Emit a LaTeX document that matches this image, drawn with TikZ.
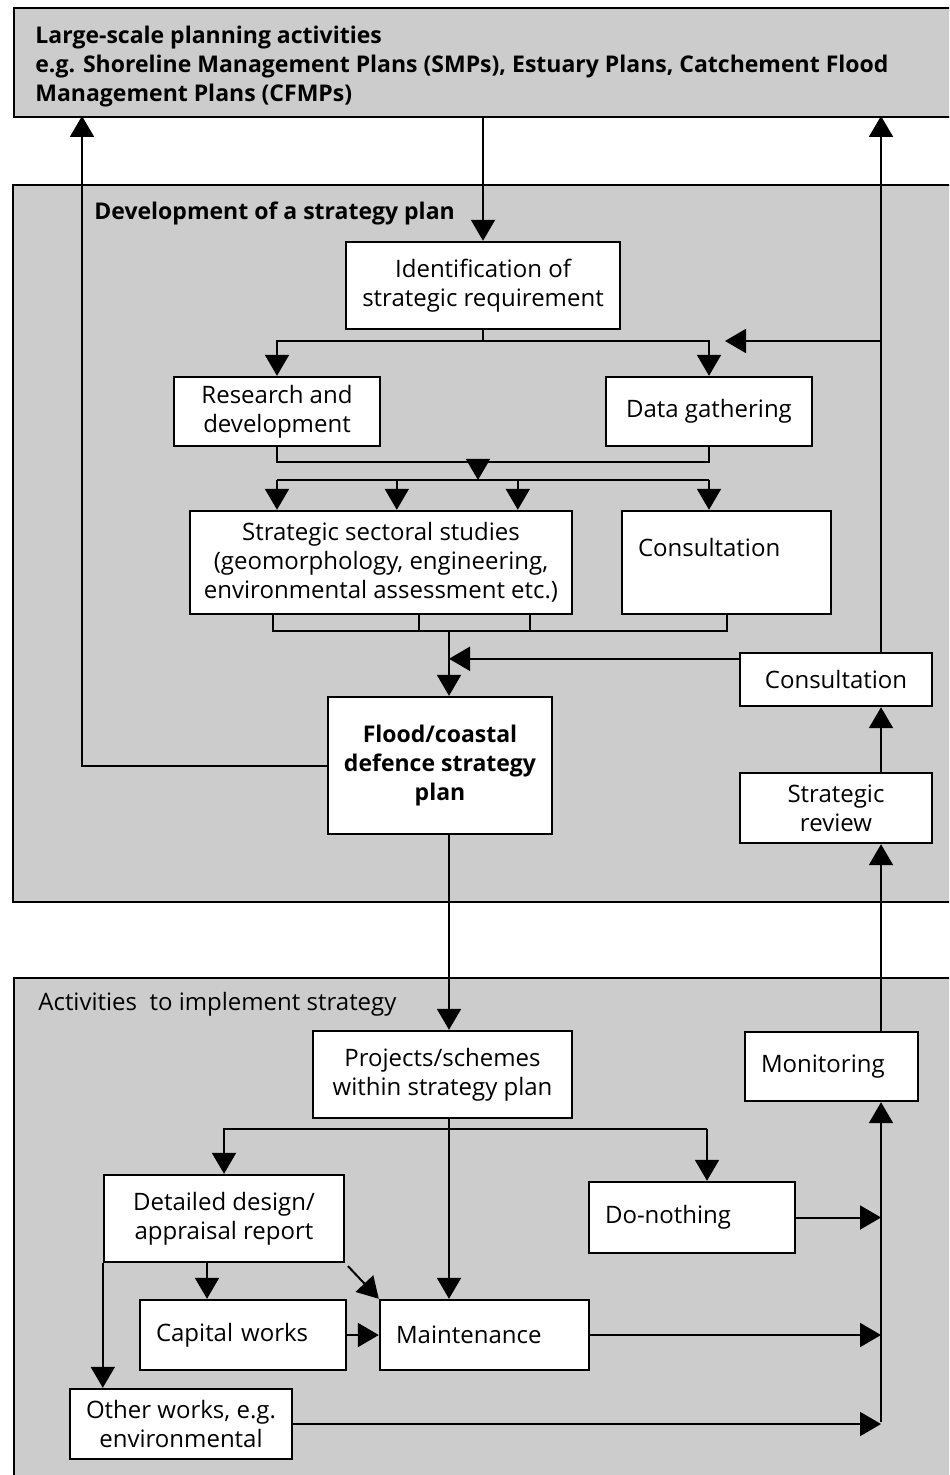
\documentclass[tikz,border=0pt]{standalone}
\usepackage{fontspec}
\setmainfont{Open Sans}
\usepackage{tikz}
\usepackage{xcolor}
\usetikzlibrary{arrows.meta}

\definecolor{panelgray}{HTML}{CCCCCC}

\tikzset{
    txt/.style={font=\fontsize{12}{14.5}\selectfont},
    boldtxt/.style={font=\fontsize{11.5}{14.5}\selectfont\bfseries},
    panel/.style={draw, fill=panelgray, line width=1.2pt, anchor=north west, inner sep=0pt},
    box/.style={txt, draw, fill=white, line width=1.2pt, align=center, inner sep=2pt},
    lbox/.style={box, align=left, inner xsep=8pt},
    ln/.style={line width=1pt},
    arr/.style={ln, -{Triangle[width=12pt,length=10.5pt]}}
}

\begin{document}
\begin{tikzpicture}[x=0.5pt, y=-0.5pt]
    \useasboundingbox (0,0) rectangle (949,1475);
    \clip (0,0) rectangle (949,1475);

    % Panels
    \node[panel, minimum width=483.5pt, minimum height=54.5pt] (large) at (13,7) {};
    \node[panel, minimum width=484pt, minimum height=358.5pt] (devel) at (12,184) {};
    \node[panel, minimum width=483.5pt, minimum height=261.5pt] (impl) at (13,977) {};
    \node[boldtxt, anchor=north west, align=left, inner sep=0pt] (largetxt) at (35,26)
        {Large-scale planning activities\\e.g. Shoreline Management Plans (SMPs), Estuary Plans, Catchement Flood\\Management Plans (CFMPs)};
    \node[boldtxt, anchor=base west, inner sep=0pt] (develtxt) at (94,220) {Development of a strategy plan};
    \node[txt, anchor=base west, inner sep=0pt] (impltxt) at (38,1010) {Activities~ to implement strategy};

    % Strategy plan boxes
    \node[box, minimum width=137pt, minimum height=43.5pt] (ident) at (483,285.5) {Identification of\\strategic requirement};
    \node[box, minimum width=103pt, minimum height=34.5pt] (rnd) at (277,411.5) {Research and\\development};
    \node[box, minimum width=103pt, minimum height=34.5pt] (data) at (709,411.5) {Data gathering};
    \node[box, minimum width=191pt, minimum height=51.5pt] (sect) at (381,562.5)
        {Strategic sectoral studies\\(geomorphology, engineering,\\environmental assessment etc.)};
    \node[lbox, text width=88.5pt, minimum height=51.5pt, text height=9pt, text depth=15pt] (cons1) at (726.5,562.5) {Consultation};
    \node[box, minimum width=96pt, minimum height=26.5pt] (cons2) at (836,679.5) {Consultation};
    \node[box, boldtxt, minimum width=112pt, minimum height=68.5pt] (flood) at (440,765.5) {Flood/coastal\\defence strategy\\plan};
    \node[box, minimum width=96pt, minimum height=35pt] (review) at (836,808) {Strategic\\review};

    % Implementation boxes
    \node[box, minimum width=129.5pt, minimum height=43.5pt] (proj) at (442.5,1074.5) {Projects/schemes\\within strategy plan};
    \node[lbox, text width=70.5pt, minimum height=34.5pt] (monit) at (831.5,1066.5) {Monitoring};
    \node[box, minimum width=120pt, minimum height=43.5pt] (detail) at (224,1218.5) {Detailed design/\\appraisal report};
    \node[lbox, text width=87pt, minimum height=35.5pt] (donot) at (692,1217.5) {Do-nothing};
    \node[lbox, text width=87pt, minimum height=35pt] (capital) at (243,1335) {Capital works};
    \node[lbox, text width=88.5pt, minimum height=35pt] (maint) at (484.5,1335) {Maintenance};
    \node[box, minimum width=111pt, minimum height=35pt] (other) at (181,1424) {Other works, e.g.\\environmental};

    % Junctions
    \coordinate (lft) at (82,116);
    \coordinate (rgt) at (881,116);
    \coordinate (sp1) at (483,341);
    \coordinate (fb1) at (725,341);
    \coordinate (mg1) at (478,462);
    \coordinate (mg2) at (478,480);
    \coordinate (s2) at ([xshift=104pt]sect.north west);
    \coordinate (s3) at ([xshift=164.5pt]sect.north west);
    \coordinate (b1) at ([xshift=42pt]sect.south west);
    \coordinate (b2) at ([xshift=115pt]sect.south west);
    \coordinate (b3) at ([xshift=170.5pt]sect.south west);
    \coordinate (mg3) at (449,631);
    \coordinate (c2in) at ([yshift=-3.5pt]cons2.north west);
    \coordinate (sp2) at (449,1129);
    \coordinate (sp3) at (707,1129);
    \coordinate (dc) at ([xshift=-8.5pt]detail.south);
    \coordinate (mb) at (881,1422);

    % Strategy plan connectors
    \draw[arr] (ident.north |- large.south) -- (ident.north);
    \draw[ln] (ident.south) -- (sp1);
    \draw[arr] (sp1) -| (rnd.north);
    \draw[arr] (sp1) -| (data.north);
    \draw[arr] (rgt |- sp1) -- (fb1);
    \draw[ln] (rnd.south) |- (mg1) -| (data.south);
    \draw[arr] (mg1) -- (mg2);
    \draw[ln] (rnd.south |- mg2) -- (data.south |- mg2);
    \draw[arr] (rnd.south |- mg2) -- (rnd.south |- sect.north);
    \draw[arr] (s2 |- mg2) -- (s2);
    \draw[arr] (s3 |- mg2) -- (s3);
    \draw[arr] (data.south |- mg2) -- (data.south |- cons1.north);
    \draw[ln] (b1) |- (cons1.south |- mg3) -- (cons1.south);
    \draw[ln] (b2) -- (b2 |- mg3);
    \draw[ln] (b3) -- (b3 |- mg3);
    \draw[arr] (mg3) -- (mg3 |- flood.north);
    \draw[arr] (c2in) -- (c2in -| mg3);
    \draw[arr] (flood.west) -| (lft);
    \draw[arr] (cons2.north -| rgt) -- (rgt);
    \draw[arr] (review.north -| rgt) -- (cons2.south -| rgt);

    % Implementation connectors
    \draw[arr] (flood.south -| mg3) -- (proj.north -| mg3);
    \draw[arr] (monit.north -| rgt) -- (review.south -| rgt);
    \draw[arr] (proj.south -| mg3) -- (maint.north -| mg3);
    \draw[ln] (sp2) -- (sp3);
    \draw[arr] (sp2) -| (detail.north);
    \draw[arr] (sp3) -- (sp3 |- donot.north);
    \draw[arr] (dc) -- (dc |- capital.north);
    \draw[arr, shorten <=2pt] (detail.south east) -- (maint.north west);
    \draw[arr] (capital.east) -- (maint.west);
    \draw[arr] (detail.south west) -- (detail.south west |- other.north);
    \draw[arr] (mb) -- (mb |- monit.south);
    \draw[arr] (donot.east) -- (donot.east -| mb);
    \draw[arr] (maint.east) -- (maint.east -| mb);
    \draw[arr] (other.east) -- (other.east -| mb);
\end{tikzpicture}
\end{document}
